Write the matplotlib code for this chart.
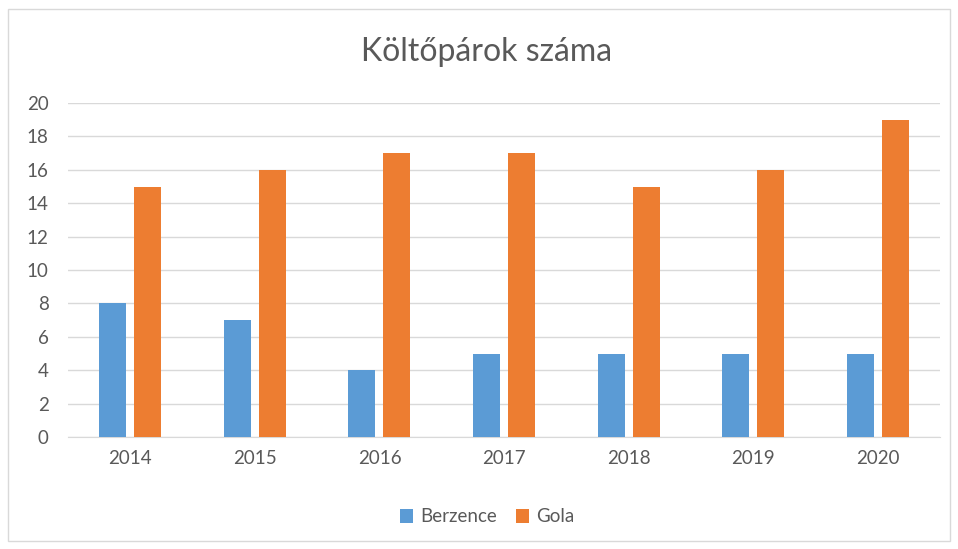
import numpy as np
import matplotlib.pyplot as plt
from matplotlib.patches import Rectangle

plt.rcParams['font.family'] = ['Lato', 'DejaVu Sans']

# adatok
evek = ['2014', '2015', '2016', '2017', '2018', '2019', '2020']
berzence = [8, 7, 4, 5, 5, 5, 5]
gola = [15, 16, 17, 17, 15, 16, 19]

kek = '#5B9BD5'
narancs = '#ED7D31'
szurke = '#595959'

fig = plt.figure(figsize=(9.58, 5.49), dpi=100)
ax = fig.add_axes([68 / 958, 1 - 437 / 549, (940 - 68) / 958, (437 - 103) / 549])

# keret a diagram körül
fig.patches.append(Rectangle((8 / 958, 8 / 549), 942 / 958, 532 / 549,
                             transform=fig.transFigure, fill=False,
                             edgecolor='#D9D9D9', linewidth=1))

x = np.arange(len(evek))
w = 0.217
gap = 0.064
ax.bar(x - (w + gap) / 2, berzence, w, color=kek, label='Berzence', zorder=3)
ax.bar(x + (w + gap) / 2, gola, w, color=narancs, label='Gola', zorder=3)

ax.set_xlim(-0.5, len(evek) - 0.5)
ax.set_ylim(0, 20)
ax.set_yticks(range(0, 21, 2))
ax.set_xticks(x)
ax.set_xticklabels(evek)
ax.grid(axis='y', color='#D9D9D9', linewidth=1, zorder=0)
for s in ['top', 'right', 'left']:
    ax.spines[s].set_visible(False)
ax.spines['bottom'].set_color('#D9D9D9')
ax.tick_params(axis='both', length=0, colors=szurke, labelsize=13.5)
ax.tick_params(axis='y', pad=14)
ax.tick_params(axis='x', pad=9)

fig.text(487 / 958, 1 - 52 / 549, 'Költőpárok száma', ha='center', va='center',
         fontsize=23, color=szurke)

fig.legend(loc='center', bbox_to_anchor=(487 / 958, 1 - 517 / 549), ncol=2,
           frameon=False, fontsize=13.5, labelcolor=szurke, handlelength=0.7,
           handleheight=0.7, columnspacing=1.0, handletextpad=0.4)

fig.savefig('out.png', dpi=100)
